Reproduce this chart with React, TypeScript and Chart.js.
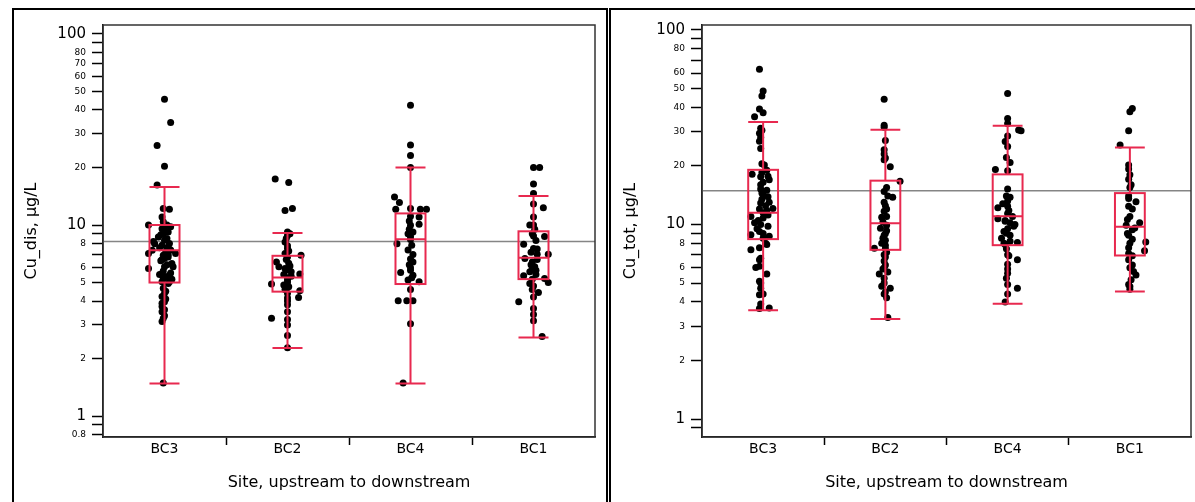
import React, { useEffect, useRef } from 'react';
import { Chart, registerables } from 'chart.js';

Chart.register(...registerables);

const FONT = 'DejaVu Sans';
const RED = '#e8294f';

const categories = ['BC3', 'BC2', 'BC4', 'BC1'];

// y-axis ticks (log scale)
const disTickValues = [0.8, 0.9, 1, 2, 3, 4, 5, 6, 7, 8, 9, 10, 20, 30, 40, 50, 60, 70, 80, 90, 100];
const disTickLabels = ['0.8', '', '1', '2', '3', '4', '5', '6', '', '8', '', '10', '20', '30', '40', '50', '60', '70', '80', '', '100'];
const totTickValues = [0.9, 1, 2, 3, 4, 5, 6, 7, 8, 9, 10, 20, 30, 40, 50, 60, 70, 80, 90, 100];
const totTickLabels = ['', '1', '2', '3', '4', '5', '6', '', '8', '', '10', '20', '30', '40', '50', '60', '', '80', '', '100'];

// box statistics, per site (BC3, BC2, BC4, BC1)
const disWhiskerLow = [1.48, 2.27, 1.48, 2.58];
const disQ1 = [5.0, 4.48, 4.91, 5.21];
const disMedian = [7.38, 5.31, 8.43, 6.73];
const disQ3 = [10.0, 6.9, 11.5, 9.27];
const disWhiskerHigh = [15.8, 9.09, 20.0, 14.2];
const disReference = 8.2;

const totWhiskerLow = [3.62, 3.27, 3.92, 4.53];
const totQ1 = [8.41, 7.41, 7.83, 6.93];
const totMedian = [11.5, 10.15, 11.03, 9.73];
const totQ3 = [19.1, 16.8, 18.1, 14.5];
const totWhiskerHigh = [33.6, 30.7, 32.2, 24.9];
const totReference = 14.9;

// Cu dissolved, points per site, with horizontal jitter (category units)
const disBC3 = [45.5, 34.4, 26.1, 20.3, 16.2, 12.2, 12.1, 11.0, 10.4, 10.0, 10.0, 9.8, 9.57, 9.3, 9.01, 8.66, 8.5, 8.32, 8.2, 7.99, 7.84, 7.7, 7.53, 7.38, 7.2, 7.09, 7.09, 6.95, 6.8, 6.68, 6.5, 6.29, 6.04, 6.04, 5.92, 5.75, 5.58, 5.45, 5.36, 5.25, 5.05, 5.05, 4.94, 4.66, 4.4, 4.22, 4.1, 3.97, 3.74, 3.6, 3.52, 3.25, 3.13, 1.49, 9.2, 8.9, 8.0, 7.6, 7.4, 7.0, 6.6, 6.2, 5.6, 5.5, 5.2, 4.5, 3.9, 3.35];
const disBC3Jitter = [0.0, 0.05, -0.06, 0.0, -0.06, -0.01, 0.04, -0.02, -0.01, -0.13, 0.02, 0.05, -0.02, 0.01, -0.01, -0.05, 0.02, 0.0, -0.09, -0.08, -0.02, 0.03, 0.02, -0.1, 0.01, -0.13, 0.09, -0.01, 0.03, 0.0, -0.03, 0.06, 0.0, 0.07, -0.13, -0.01, -0.02, 0.04, 0.02, -0.01, 0.04, -0.02, 0.03, -0.01, 0.0, -0.02, 0.01, 0.0, -0.02, 0.0, -0.02, -0.01, -0.02, -0.01, 0.03, -0.03, 0.04, -0.04, 0.05, 0.03, -0.02, 0.02, 0.05, -0.04, 0.06, 0.01, -0.02, 0.0];

const disBC2 = [17.4, 16.7, 12.2, 11.9, 9.19, 9.0, 8.5, 8.16, 7.8, 7.53, 7.1, 6.95, 6.8, 6.41, 6.3, 6.04, 5.92, 5.7, 5.54, 5.5, 5.3, 5.15, 4.91, 4.85, 4.75, 4.53, 4.4, 4.17, 4.15, 3.82, 3.52, 3.25, 3.2, 2.64, 2.28, 8.8, 7.3, 6.6, 6.1, 5.8, 5.4, 5.0, 4.6, 4.0, 3.0];
const disBC2Jitter = [-0.1, 0.01, 0.04, -0.02, 0.0, 0.02, -0.01, -0.02, 0.0, 0.0, -0.02, 0.11, 0.0, -0.09, 0.01, -0.07, -0.02, 0.03, 0.1, -0.03, 0.0, 0.0, -0.13, -0.03, 0.01, 0.1, 0.0, 0.09, 0.0, 0.0, 0.0, -0.13, 0.0, 0.0, 0.0, 0.0, 0.01, -0.01, 0.02, -0.01, 0.03, 0.0, -0.02, 0.0, 0.0];

const disBC4 = [42.3, 26.2, 23.1, 20.0, 14.0, 13.1, 12.1, 12.2, 12.1, 12.1, 11.1, 11.0, 9.96, 10.1, 9.5, 9.01, 8.7, 7.99, 7.84, 7.0, 6.63, 6.2, 5.97, 5.8, 5.65, 5.45, 5.15, 5.05, 4.01, 4.01, 4.01, 3.04, 1.49, 10.5, 9.2, 8.4, 7.4, 6.4, 5.3, 4.6];
const disBC4Jitter = [0.0, 0.0, 0.0, 0.0, -0.13, -0.09, -0.12, 0.0, 0.08, 0.13, 0.0, 0.07, 0.0, 0.07, -0.01, -0.02, 0.0, -0.11, 0.01, 0.02, 0.0, -0.01, 0.0, 0.0, -0.08, 0.02, -0.02, 0.07, -0.1, -0.03, 0.02, 0.0, -0.06, -0.01, 0.02, 0.0, -0.02, 0.02, 0.01, 0.0];

const disBC1 = [20.0, 20.0, 16.4, 14.6, 12.9, 12.3, 10.0, 10.0, 9.0, 8.77, 8.7, 7.93, 7.53, 7.5, 7.04, 7.04, 6.68, 6.41, 6.2, 6.04, 5.8, 5.69, 5.42, 5.25, 5.2, 4.94, 5.0, 4.8, 4.43, 3.97, 3.66, 3.15, 2.61, 11.0, 9.5, 8.3, 7.2, 6.6, 5.9, 5.5, 4.6, 4.2, 3.4];
const disBC1Jitter = [0.0, 0.05, 0.0, 0.0, 0.0, 0.08, -0.03, 0.0, -0.01, 0.0, 0.09, -0.08, 0.0, 0.03, 0.03, 0.12, -0.07, -0.01, -0.02, 0.01, 0.02, -0.03, -0.08, 0.09, -0.01, -0.03, 0.12, 0.0, 0.04, -0.12, 0.0, 0.0, 0.07, 0.0, 0.01, 0.02, -0.02, 0.03, -0.01, 0.02, -0.01, 0.0, 0.0];

// Cu total, points per site
const totBC3 = [62.8, 48.5, 45.7, 39.2, 37.5, 35.8, 31.2, 29.4, 26.8, 24.6, 20.5, 20.2, 19.0, 18.1, 17.6, 17.7, 16.5, 15.2, 14.2, 13.9, 13.5, 12.9, 12.5, 12.1, 11.8, 11.5, 11.0, 10.5, 10.2, 10.0, 9.5, 9.0, 8.85, 8.5, 8.02, 7.6, 7.41, 6.59, 6.02, 5.56, 5.11, 4.71, 4.36, 3.7, 3.72, 18.5, 17.0, 16.0, 15.0, 14.5, 13.0, 12.0, 11.2, 10.8, 9.8, 9.2, 8.7, 7.9, 6.7, 6.1, 5.0, 4.4, 3.9, 28.0, 30.5];
const totBC3Jitter = [-0.03, 0.0, -0.01, -0.03, 0.0, -0.07, -0.02, -0.03, -0.03, -0.02, -0.01, 0.01, 0.03, -0.09, -0.02, 0.04, 0.0, -0.02, 0.0, 0.04, -0.01, -0.02, 0.02, 0.08, 0.03, 0.0, -0.1, -0.04, -0.07, -0.02, -0.05, 0.0, -0.1, 0.0, 0.02, -0.03, -0.1, -0.03, -0.06, 0.03, -0.03, -0.02, -0.03, -0.03, 0.05, -0.01, 0.05, -0.02, 0.03, -0.01, 0.05, -0.03, 0.04, 0.0, 0.04, -0.03, 0.05, 0.03, -0.02, -0.03, -0.02, 0.0, -0.02, -0.02, -0.01];

const totBC2 = [44.0, 32.4, 31.6, 24.2, 23.0, 21.5, 19.8, 16.7, 14.8, 13.8, 13.0, 12.5, 11.7, 11.0, 10.9, 10.3, 9.58, 9.3, 9.0, 8.5, 8.02, 7.8, 7.56, 7.2, 7.0, 6.8, 6.5, 6.2, 5.9, 5.56, 5.3, 4.81, 4.7, 4.39, 3.33, 15.5, 14.0, 12.0, 9.9, 8.8, 8.3, 7.5, 6.0, 5.7, 5.0, 4.5, 4.2, 22.0, 27.0];
const totBC2Jitter = [-0.01, -0.01, -0.01, -0.01, -0.01, -0.01, 0.04, 0.12, -0.01, 0.06, -0.01, 0.0, -0.01, 0.01, -0.03, -0.02, -0.04, 0.01, 0.0, -0.02, -0.03, 0.0, -0.09, 0.01, -0.01, 0.0, -0.01, 0.0, -0.02, -0.05, -0.01, -0.03, 0.04, -0.01, 0.02, 0.01, 0.02, 0.01, 0.01, -0.01, 0.0, 0.0, -0.01, 0.02, -0.01, 0.0, 0.01, 0.0, 0.0];

const totBC4 = [47.1, 35.1, 33.0, 30.6, 30.3, 28.5, 26.7, 25.2, 22.1, 20.8, 19.2, 18.9, 15.2, 14.0, 13.2, 12.4, 12.2, 11.8, 11.4, 10.7, 10.5, 10.2, 10.0, 9.5, 9.02, 8.5, 8.2, 8.09, 7.9, 7.5, 7.0, 6.59, 6.25, 5.62, 4.91, 4.7, 4.0, 13.8, 12.8, 11.0, 10.4, 9.8, 9.2, 8.8, 8.0, 6.9, 5.9, 5.3, 4.4];
const totBC4Jitter = [0.0, 0.0, 0.0, 0.09, 0.11, 0.0, -0.02, 0.0, -0.01, 0.02, -0.1, 0.0, 0.0, -0.01, 0.0, 0.0, -0.08, 0.01, 0.0, -0.08, -0.02, 0.02, 0.06, 0.0, -0.01, -0.05, 0.02, 0.08, -0.02, -0.01, 0.0, 0.08, 0.0, 0.0, 0.0, 0.08, -0.02, 0.02, -0.04, 0.04, -0.02, 0.05, -0.03, 0.02, -0.03, 0.01, 0.0, -0.01, 0.0];

const totBC1 = [39.5, 38.0, 30.3, 25.6, 20.2, 19.3, 17.1, 15.5, 13.6, 13.1, 12.4, 11.0, 10.2, 9.9, 9.4, 8.8, 8.12, 8.0, 7.33, 7.1, 6.59, 6.2, 5.74, 5.5, 4.91, 4.65, 14.0, 12.0, 10.6, 9.6, 9.0, 8.4, 7.6, 6.9, 6.0, 5.2, 4.8, 18.0, 16.0];
const totBC1Jitter = [0.02, 0.0, -0.01, -0.08, -0.01, -0.01, -0.01, 0.0, -0.01, 0.05, -0.01, 0.0, 0.08, -0.03, 0.02, -0.01, 0.13, 0.0, 0.12, -0.01, -0.01, 0.02, 0.03, 0.05, -0.01, 0.0, -0.01, 0.02, -0.02, 0.04, -0.02, 0.02, -0.01, 0.02, 0.0, 0.01, 0.0, 0.0, 0.01];

const BOX_HALF = 0.122;

type Stats = { low: number[]; q1: number[]; med: number[]; q3: number[]; high: number[]; ref: number };

function makeOverlay(stats: Stats) {
  return {
    id: 'boxOverlay',
    beforeDatasetsDraw(chart: any) {
      const { ctx, chartArea, scales } = chart;
      const py = scales.y.getPixelForValue(stats.ref);
      ctx.save();
      ctx.strokeStyle = '#858585';
      ctx.lineWidth = 1.5;
      ctx.beginPath();
      ctx.moveTo(chartArea.left, py);
      ctx.lineTo(chartArea.right, py);
      ctx.stroke();
      ctx.restore();
    },
    afterDatasetsDraw(chart: any) {
      const { ctx, scales } = chart;
      const x = scales.x;
      const y = scales.y;
      ctx.save();
      ctx.strokeStyle = RED;
      ctx.lineWidth = 2;
      for (let i = 0; i < categories.length; i++) {
        const cx = x.getPixelForValue(i);
        const hw = x.getPixelForValue(i + BOX_HALF) - cx;
        const yLo = y.getPixelForValue(stats.low[i]);
        const yQ1 = y.getPixelForValue(stats.q1[i]);
        const yMed = y.getPixelForValue(stats.med[i]);
        const yQ3 = y.getPixelForValue(stats.q3[i]);
        const yHi = y.getPixelForValue(stats.high[i]);
        ctx.beginPath();
        ctx.moveTo(cx, yHi);
        ctx.lineTo(cx, yQ3);
        ctx.moveTo(cx, yQ1);
        ctx.lineTo(cx, yLo);
        ctx.moveTo(cx - hw, yHi);
        ctx.lineTo(cx + hw, yHi);
        ctx.moveTo(cx - hw, yLo);
        ctx.lineTo(cx + hw, yLo);
        ctx.moveTo(cx - hw, yMed);
        ctx.lineTo(cx + hw, yMed);
        ctx.stroke();
        ctx.strokeRect(cx - hw, yQ3, 2 * hw, yQ1 - yQ3);
      }
      ctx.restore();
    },
    afterDraw(chart: any) {
      const { ctx, chartArea } = chart;
      ctx.save();
      ctx.strokeStyle = '#333';
      ctx.lineWidth = 1.5;
      ctx.strokeRect(chartArea.left, chartArea.top, chartArea.right - chartArea.left, chartArea.bottom - chartArea.top);
      ctx.restore();
    },
  };
}

type PanelProps = {
  width: number;
  left: number;
  yAxisWidth: number;
  padRight: number;
  yMin: number;
  yMax: number;
  tickValues: number[];
  tickLabels: string[];
  yTitle: string;
  yTitlePad: number;
  groups: number[][];
  jitters: number[][];
  stats: Stats;
};

function Panel(p: PanelProps) {
  const ref = useRef<HTMLCanvasElement | null>(null);
  useEffect(() => {
    if (!ref.current) return;
    const datasets = p.groups.map((vals, i) => ({
      type: 'scatter' as const,
      data: vals.map((v, k) => ({ x: i + p.jitters[i][k], y: v })),
      pointRadius: 3.5,
      pointBackgroundColor: '#000',
      pointBorderWidth: 0,
      showLine: false,
    }));
    const chart = new Chart(ref.current, {
      type: 'scatter',
      data: { datasets },
      plugins: [makeOverlay(p.stats)],
      options: {
        responsive: false,
        animation: false,
        layout: { padding: { top: 13, right: p.padRight, left: 0, bottom: 0 } },
        plugins: { legend: { display: false }, tooltip: { enabled: false } },
        scales: {
          x: {
            type: 'linear',
            min: -0.5,
            max: 3.5,
            afterBuildTicks: (scale: any) => {
              scale.ticks = [0, 0.5, 1, 1.5, 2, 2.5, 3].map((v) => ({ value: v }));
            },
            afterFit: (scale: any) => {
              scale.height = 65;
            },
            ticks: {
              autoSkip: false,
              maxRotation: 0,
              padding: -4,
              color: '#000',
              font: { family: FONT, size: 14 },
              callback: (v: any) => (Number.isInteger(v) ? categories[v] : ''),
            },
            grid: {
              drawOnChartArea: false,
              drawTicks: true,
              tickLength: 8,
              tickColor: (ctx: any) => (ctx.tick && Number.isInteger(ctx.tick.value) ? 'rgba(0,0,0,0)' : '#000'),
              tickWidth: 1.5,
            },
            border: { display: true, color: '#000', width: 1.5 },
            title: {
              display: true,
              text: 'Site, upstream to downstream',
              color: '#000',
              font: { family: FONT, size: 16 },
              padding: { top: 0, bottom: 10 },
            },
          },
          y: {
            type: 'logarithmic',
            min: p.yMin,
            max: p.yMax,
            afterBuildTicks: (scale: any) => {
              scale.ticks = p.tickValues.map((v) => ({ value: v }));
            },
            afterFit: (scale: any) => {
              scale.width = p.yAxisWidth;
            },
            ticks: {
              autoSkip: false,
              padding: 6,
              color: '#000',
              font: (ctx: any) => {
                const v = ctx.tick ? ctx.tick.value : 0;
                const major = v === 1 || v === 10 || v === 100;
                return { family: FONT, size: major ? 15 : 9 };
              },
              callback: (v: any) => {
                const idx = p.tickValues.indexOf(Number(v));
                return idx >= 0 ? p.tickLabels[idx] : '';
              },
            },
            grid: {
              drawOnChartArea: false,
              drawTicks: true,
              tickLength: 11,
              tickColor: '#000',
              tickWidth: 1.5,
            },
            border: { display: true, color: '#000', width: 1.5 },
            title: {
              display: true,
              text: p.yTitle,
              color: '#000',
              font: { family: FONT, size: 16 },
              padding: { top: p.yTitlePad, bottom: 0 },
            },
          },
        },
      } as any,
    });
    return () => chart.destroy();
  }, []);
  return (
    <canvas
      ref={ref}
      width={p.width}
      height={492}
      style={{ position: 'absolute', left: p.left, top: 10, width: p.width, height: 492 }}
    />
  );
}

export default function App() {
  return (
    <div style={{ position: 'fixed', left: 0, top: 0, width: 1195, height: 502, overflow: 'hidden', background: '#fff' }}>
      <div style={{ position: 'absolute', left: 12, top: 8, width: 596, height: 620, border: '2px solid #000', boxSizing: 'border-box' }} />
      <div style={{ position: 'absolute', left: 609, top: 8, width: 620, height: 620, border: '2px solid #000', boxSizing: 'border-box' }} />
      <Panel
        width={592}
        left={14}
        yAxisWidth={89}
        padRight={11}
        yMin={0.777}
        yMax={111.4}
        tickValues={disTickValues}
        tickLabels={disTickLabels}
        yTitle="Cu_dis, µg/L"
        yTitlePad={8}
        groups={[disBC3, disBC2, disBC4, disBC1]}
        jitters={[disBC3Jitter, disBC2Jitter, disBC4Jitter, disBC1Jitter]}
        stats={{ low: disWhiskerLow, q1: disQ1, med: disMedian, q3: disQ3, high: disWhiskerHigh, ref: disReference }}
      />
      <Panel
        width={583}
        left={612}
        yAxisWidth={90}
        padRight={1}
        yMin={0.809}
        yMax={106}
        tickValues={totTickValues}
        tickLabels={totTickLabels}
        yTitle="Cu_tot, µg/L"
        yTitlePad={9}
        groups={[totBC3, totBC2, totBC4, totBC1]}
        jitters={[totBC3Jitter, totBC2Jitter, totBC4Jitter, totBC1Jitter]}
        stats={{ low: totWhiskerLow, q1: totQ1, med: totMedian, q3: totQ3, high: totWhiskerHigh, ref: totReference }}
      />
    </div>
  );
}
